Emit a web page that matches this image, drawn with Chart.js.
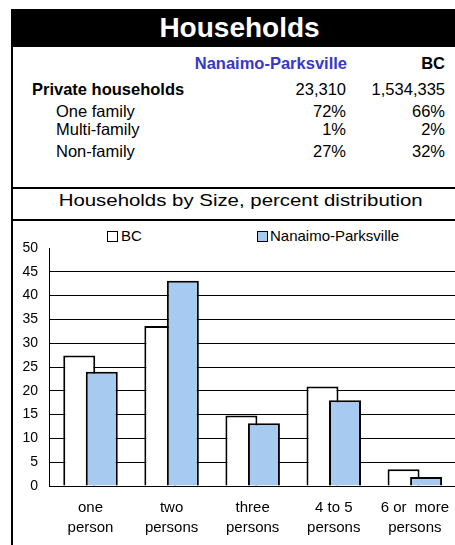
<!DOCTYPE html>
<html>
<head>
<meta charset="utf-8">
<script src="https://cdn.jsdelivr.net/npm/chart.js@4"></script>
<style>
  html, body { margin: 0; padding: 0; background: #fff; overflow: hidden; }
  body { width: 455px; height: 545px; position: relative; font-family: "Liberation Sans", Arial, sans-serif; color: #000; }
  .abs { position: absolute; white-space: pre; }
  .t { font-size: 16.5px; line-height: 20px; }
  .r { text-align: right; }
  .b { font-weight: bold; }
  #wrap { position: absolute; left: 13px; top: 221px; width: 448px; height: 324px; }
  #wrap canvas { display: block; }
</style>
</head>
<body>
<div class="abs" style="left:11px;top:9px;width:2px;height:536px;background:#000"></div>
<div class="abs b" style="left:11px;top:9px;width:457px;height:38px;line-height:38px;background:#000;color:#fff;text-align:center;font-size:28px">Households</div>

<div class="abs t b r" style="left:150px;top:52.5px;width:197px;color:#3737c8">Nanaimo-Parksville</div>
<div class="abs t b r" style="left:360px;top:52.5px;width:85px">BC</div>

<div class="abs t b" style="left:32px;top:78.5px">Private households</div>
<div class="abs t r" style="left:250px;top:78.5px;width:96px">23,310</div>
<div class="abs t r" style="left:350px;top:78.5px;width:95px">1,534,335</div>

<div class="abs t" style="left:56px;top:101px">One family</div>
<div class="abs t r" style="left:250px;top:101px;width:96px">72%</div>
<div class="abs t r" style="left:350px;top:101px;width:95px">66%</div>

<div class="abs t" style="left:56px;top:118.5px">Multi-family</div>
<div class="abs t r" style="left:250px;top:118.5px;width:96px">1%</div>
<div class="abs t r" style="left:350px;top:118.5px;width:95px">2%</div>

<div class="abs t" style="left:56px;top:141px">Non-family</div>
<div class="abs t r" style="left:250px;top:141px;width:96px">27%</div>
<div class="abs t r" style="left:350px;top:141px;width:95px">32%</div>

<div class="abs" style="left:11px;top:187px;width:444px;height:2px;background:#000"></div>
<div class="abs" style="left:11px;top:191px;width:459px;text-align:center;font-size:17px;line-height:20px"><span style="display:inline-block;transform:scaleX(1.2)">Households by Size, percent distribution</span></div>
<div class="abs" style="left:11px;top:219px;width:444px;height:2px;background:#000"></div>

<div id="legend"></div>
<div id="wrap"><canvas id="chart"></canvas></div>

<script>
const categories = [["one", "person"], ["two", "persons"], ["three", "persons"], ["4 to 5", "persons"], ["6 or  more", "persons"]];
const bcValues = [27.4, 33.6, 14.8, 20.9, 3.5];
const nanaimoValues = [24.0, 43.1, 13.2, 18.0, 1.9];
const yTicks = [0, 5, 10, 15, 20, 25, 30, 35, 40, 45, 50];

// draw datasets in index order so the right-hand bar sits on top
const drawOrder = {
  id: 'drawOrder',
  beforeDatasetsDraw(chart) {
    const metas = chart.getSortedVisibleDatasetMetas().slice().sort((a, b) => a.index - b.index);
    metas.forEach(m => chart._drawDataset(m));
    return false;
  }
};

const ctx = document.getElementById('chart');
const myChart = new Chart(ctx, {
  type: 'bar',
  data: {
    labels: categories,
    datasets: [
      {
        label: 'BC',
        backgroundColor: '#ffffff',
        borderColor: '#000000',
        borderWidth: 2,
        data: bcValues
      },
      {
        label: 'Nanaimo-Parksville',
        backgroundColor: '#a6caf0',
        borderColor: '#000000',
        borderWidth: 2,
        data: nanaimoValues
      }
    ]
  },
  options: {
    responsive: true,
    maintainAspectRatio: false,
    animation: false,
    categoryPercentage: 0.5556,
    barPercentage: 1.42,
    layout: {
      autoPadding: false,
      padding: { left: -2.6, right: 0, top: 27, bottom: -5 }
    },
    plugins: {
      legend: { display: false },
      tooltip: { enabled: false }
    },
    scales: {
      x: {
        grid: { display: false, drawTicks: false },
        border: { display: true, color: '#000', width: 1 },
        ticks: {
          color: '#000',
          padding: 12,
          maxRotation: 0,
          autoSkip: false,
          font: { family: '"Liberation Sans", Arial, sans-serif', size: 15, lineHeight: 1.333 }
        }
      },
      y: {
        min: 0,
        max: 50,
        afterBuildTicks(axis) {
          axis.ticks = yTicks.map(v => ({ value: v }));
        },
        grid: {
          drawTicks: false,
          color: c => (c.tick && c.tick.value === 50 ? 'rgba(0,0,0,0)' : '#000'),
          lineWidth: 1
        },
        border: { display: true, color: '#000', width: 1 },
        ticks: {
          color: '#000',
          padding: 12,
          font: { family: '"Liberation Sans", Arial, sans-serif', size: 14 }
        }
      }
    }
  },
  plugins: [drawOrder]
});

// html legend built from the chart's datasets
const legendPos = [{ box: 107, text: 121 }, { box: 257, text: 270 }];
const legendEl = document.getElementById('legend');
myChart.data.datasets.forEach((ds, i) => {
  const box = document.createElement('div');
  box.className = 'abs';
  box.style.cssText = 'left:' + legendPos[i].box + 'px;top:231px;width:9px;height:9px;border:1px solid #000;background:' + ds.backgroundColor;
  legendEl.appendChild(box);
  const txt = document.createElement('div');
  txt.className = 'abs';
  txt.style.cssText = 'left:' + legendPos[i].text + 'px;top:227px;font-size:15px;line-height:18px';
  txt.textContent = ds.label;
  legendEl.appendChild(txt);
});
</script>
</body>
</html>
